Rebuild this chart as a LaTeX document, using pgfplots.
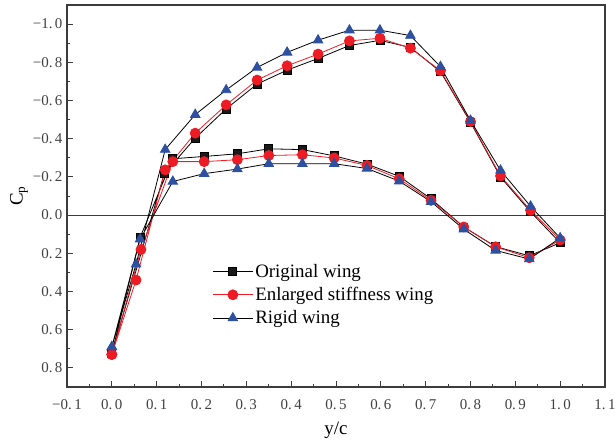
\documentclass[border=0pt]{standalone}
\usepackage{fontspec}
\setmainfont{Liberation Serif}
\usepackage{pgfplots}
\pgfplotsset{compat=1.18}
\usetikzlibrary{calc}
\definecolor{myred}{RGB}{237,28,36}
\definecolor{myblue}{RGB}{45,80,160}
\definecolor{axgray}{RGB}{60,60,60}
\begin{document}
\begin{tikzpicture}
\begin{axis}[
  scale only axis, width=538bp, height=382bp,
  xmin=-0.1, xmax=1.1, ymin=-1.1, ymax=0.9, y dir=reverse,
  axis line style={axgray, line width=1.1bp},
  xtick={-0.1,0,0.1,0.2,0.3,0.4,0.5,0.6,0.7,0.8,0.9,1.0,1.1},
  xticklabels={−0.\,1,0.\,0,0.\,1,0.\,2,0.\,3,0.\,4,0.\,5,0.\,6,0.\,7,0.\,8,0.\,9,1.\,0,1.\,1},
  ytick={-1,-0.8,-0.6,-0.4,-0.2,0,0.2,0.4,0.6,0.8},
  yticklabels={−1.\,0,−0.\,8,−0.\,6,−0.\,4,−0.\,2,0.\,0,0.\,2,0.\,4,0.\,6,0.\,8},
  minor x tick num=1, minor y tick num=1,
  tick align=inside, xtick pos=bottom, ytick pos=left,
  major tick length=6bp, minor tick length=3.5bp,
  tick style={axgray, line width=0.9bp},
  ticklabel style={font=\fontsize{15}{15}\selectfont, text=black!75},
  xticklabel style={yshift=-9bp},
  yticklabel style={xshift=-1bp},
  xlabel={y/c}, ylabel={C$_\mathrm{p}$},
  label style={font=\fontsize{19}{19}\selectfont},
  xlabel style={yshift=-6bp},
  ylabel style={yshift=-2bp},
  legend style={draw=none, fill=none, at={(axis description cs:0.27,0.327)}, anchor=north west,
    font=\fontsize{19}{19}\selectfont, row sep=4.5bp, inner sep=0pt},
  legend cell align=left,
  legend image code/.code={\draw[mark repeat=2,mark phase=2,#1] plot coordinates {(0bp,0bp)(20bp,0bp)(40bp,0bp)};},
]
\addplot[axgray, line width=0.9bp, forget plot] coordinates {(-0.1,0) (1.1,0)};
\addplot[black, line width=0.8bp, mark=square*, mark size=4bp, mark options={fill=black!90}] coordinates {
(0,0.725) (0.117,-0.217) (0.186,-0.403) (0.255,-0.556) (0.324,-0.686) (0.391,-0.759) (0.46,-0.820) (0.53,-0.888) (0.598,-0.915) (0.666,-0.878) (0.733,-0.751) (0.80,-0.486) (0.867,-0.199) (0.934,-0.017) (1.0,0.145) (0.931,0.213) (0.856,0.165) (0.785,0.062) (0.712,-0.085) (0.641,-0.203) (0.569,-0.267) (0.496,-0.31) (0.425,-0.343) (0.35,-0.347) (0.28,-0.321) (0.206,-0.307) (0.136,-0.295) (0.063,0.117) (0,0.725)};
\addlegendentry{Original wing}
\addplot[myred, line width=0.8bp, mark=*, mark size=5bp, mark options={fill=myred}] coordinates {
(0,0.73) (0.054,0.34) (0.119,-0.237) (0.186,-0.429) (0.255,-0.577) (0.324,-0.707) (0.391,-0.782) (0.46,-0.843) (0.53,-0.912) (0.598,-0.926) (0.666,-0.874) (0.733,-0.756) (0.80,-0.49) (0.867,-0.205) (0.934,-0.025) (1.0,0.13) (0.931,0.223) (0.856,0.166) (0.785,0.062) (0.712,-0.077) (0.641,-0.19) (0.569,-0.26) (0.496,-0.299) (0.425,-0.316) (0.35,-0.312) (0.28,-0.29) (0.206,-0.28) (0.136,-0.28) (0.065,0.18) (0,0.73)};
\addlegendentry{Enlarged stiffness wing}
\addplot[black, line width=0.8bp, mark=triangle*, mark size=5.5bp, mark options={myblue, fill=myblue}] coordinates {
(0,0.69) (0.054,0.257) (0.119,-0.343) (0.186,-0.526) (0.255,-0.655) (0.324,-0.773) (0.391,-0.852) (0.46,-0.916) (0.53,-0.968) (0.598,-0.968) (0.666,-0.94) (0.733,-0.777) (0.80,-0.495) (0.867,-0.234) (0.934,-0.046) (1.0,0.12) (0.931,0.23) (0.856,0.185) (0.785,0.074) (0.712,-0.07) (0.641,-0.178) (0.569,-0.244) (0.496,-0.269) (0.425,-0.269) (0.35,-0.269) (0.28,-0.241) (0.206,-0.217) (0.136,-0.176) (0.063,0.126) (0,0.69)};
\addlegendentry{Rigid wing}
\end{axis}
\pgfresetboundingbox
\path ($(current axis.south west)+(-67bp,-54bp)$) rectangle ($(current axis.north east)+(10bp,5bp)$);
\end{tikzpicture}
\end{document}
